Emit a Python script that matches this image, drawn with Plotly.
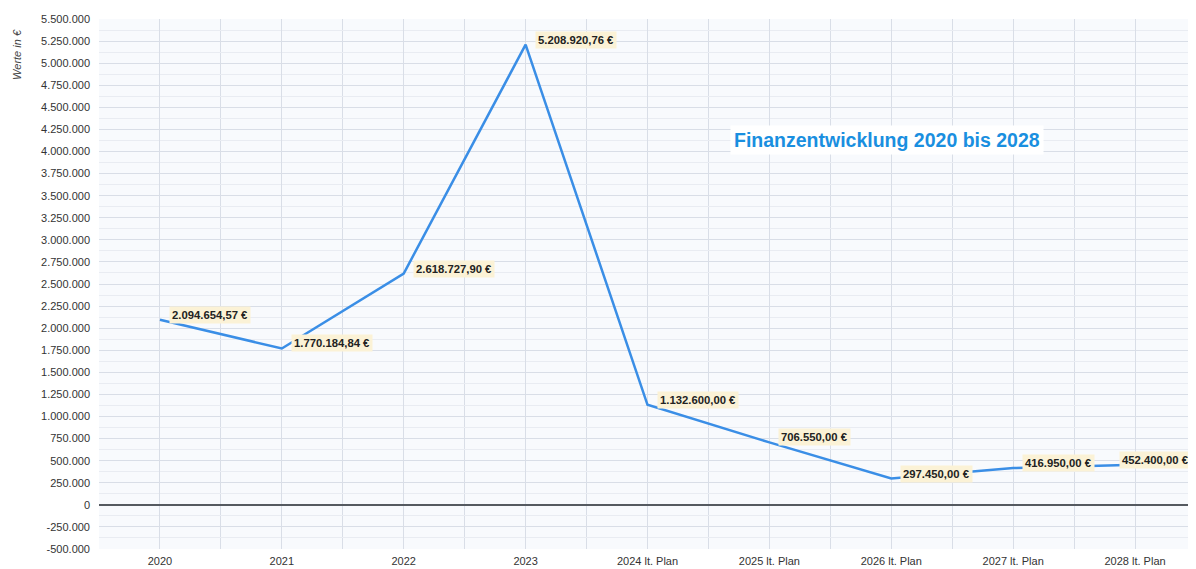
import plotly.graph_objects as go

categories = ["2020", "2021", "2022", "2023", "2024 lt. Plan", "2025 lt. Plan",
              "2026 lt. Plan", "2027 lt. Plan", "2028 lt. Plan"]
values = [2094654.57, 1770184.84, 2618727.90, 5208920.76, 1132600.00,
          706550.00, 297450.00, 416950.00, 452400.00]
y_ticks = list(range(-500000, 5500001, 250000))
title_text = "Finanzentwicklung 2020 bis 2028"
y_title = "Werte in €"


def de_int(v):
    s = f"{abs(v):,d}".replace(",", ".")
    return ("-" if v < 0 else "") + s


def de_money(v):
    s = f"{v:,.2f}"
    s = s.replace(",", "X").replace(".", ",").replace("X", ".")
    return s + " €"


x_idx = list(range(len(categories)))

fig = go.Figure()
fig.add_trace(go.Scatter(
    x=x_idx, y=values, mode="lines",
    line=dict(color="#3a8ee6", width=2.5),
    hoverinfo="skip", showlegend=False,
))

last = len(values) - 1
for i, v in enumerate(values):
    fig.add_annotation(
        x=i, y=v, xref="x", yref="y", text="<b>" + de_money(v) + "</b>",
        showarrow=False,
        xanchor="right" if i == last else "left", yanchor="middle",
        xshift=57 if i == last else 9, yshift=5,
        font=dict(family="Liberation Sans, Arial", size=11.3, color="#222222"),
        bgcolor="#fbf2d6", borderpad=2,
    )

fig.add_annotation(
    x=0.718, y=0.772, xref="paper", yref="paper",
    text="<b>" + title_text + "</b>", showarrow=False,
    xanchor="center", yanchor="middle",
    font=dict(family="Liberation Sans, Arial", size=19.5, color="#1a8fe0"),
    bgcolor="#ffffff", borderpad=3,
)

fig.add_annotation(
    x=-0.0748, y=0.934, xref="paper", yref="paper",
    text="<i>" + y_title + "</i>", showarrow=False, textangle=-90,
    font=dict(family="Liberation Sans, Arial", size=11, color="#444444"),
    xanchor="center", yanchor="middle",
)

# page has an 8px body margin, so the figure is placed at (8, 8)
fig.update_layout(
    width=1188, height=561,
    margin=dict(l=91, r=0, t=11, b=20),
    paper_bgcolor="#ffffff", plot_bgcolor="#f8fafd",
    xaxis=dict(
        range=[-0.5, len(categories) - 0.5],
        tickvals=x_idx, ticktext=categories,
        showgrid=True, gridcolor="#d9dee7", gridwidth=1,
        minor=dict(tick0=-0.5, dtick=1, showgrid=True, gridcolor="#d9dee7"),
        zeroline=False, showline=False, ticks="",
        ticklabelstandoff=4,
        tickfont=dict(family="Liberation Sans, Arial", size=11, color="#333333"),
        fixedrange=True,
    ),
    yaxis=dict(
        range=[-500000, 5500000],
        tickvals=y_ticks, ticktext=[de_int(t) for t in y_ticks],
        showgrid=True, gridcolor="#d9dee7", gridwidth=1,
        minor=dict(dtick=125000, showgrid=True, gridcolor="#e9ecf2"),
        zeroline=True, zerolinecolor="#555a60", zerolinewidth=1.5,
        showline=False, ticks="",
        ticklabelstandoff=8,
        tickfont=dict(family="Liberation Sans, Arial", size=11, color="#333333"),
        fixedrange=True,
    ),
)

fig.write_html("out.html")
